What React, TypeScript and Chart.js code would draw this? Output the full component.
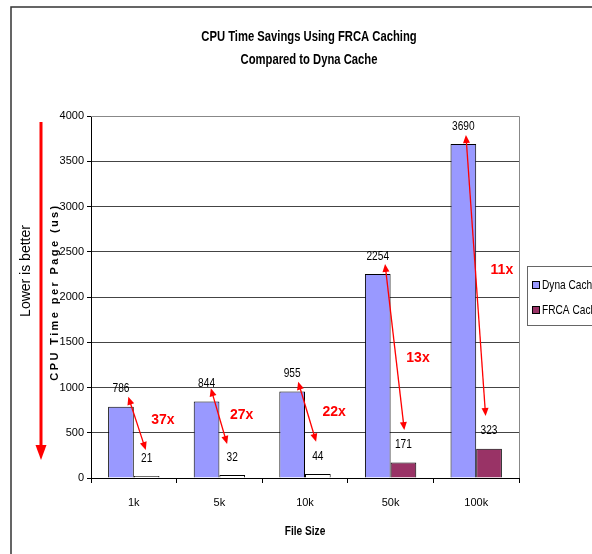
import React, { useEffect, useRef } from 'react';
import { Chart, registerables } from 'chart.js';

Chart.register(...registerables);

const categories = ['1k', '5k', '10k', '50k', '100k'];
const dynaCache = [786, 844, 955, 2254, 3690];
const frcaCache = [21, 32, 44, 171, 323];
const yTicks = [0, 500, 1000, 1500, 2000, 2500, 3000, 3500, 4000];

// speed-up annotations (positions in data units: category offset, value)
const ratioLabels = ['37x', '27x', '22x', '13x', '11x'];
const ratioOffsetX = [0.34, 0.26, 0.34, 0.32, 0.3];
const ratioValueY = [641, 696, 733, 1326, 2298];
const arrowStartOffsetX = [-0.064, -0.1, -0.08, -0.065, -0.12];
const arrowStartValue = [898, 991, 1064, 2365, 3790];
const arrowEndOffsetX = [0.14, 0.09, 0.13, 0.16, 0.11];
const arrowEndValue = [309, 376, 401, 530, 685];

const SANS = "'Liberation Sans', Arial, sans-serif";

function arrowHead(ctx: CanvasRenderingContext2D, x1: number, y1: number, x2: number, y2: number, len: number, half: number) {
  const a = Math.atan2(y2 - y1, x2 - x1);
  const bx = x2 - len * Math.cos(a);
  const by = y2 - len * Math.sin(a);
  ctx.beginPath();
  ctx.moveTo(x2, y2);
  ctx.lineTo(bx + half * Math.sin(a), by - half * Math.cos(a));
  ctx.lineTo(bx - half * Math.sin(a), by + half * Math.cos(a));
  ctx.closePath();
  ctx.fill();
}

function narrowText(ctx: CanvasRenderingContext2D, text: string, x: number, y: number, sx: number) {
  ctx.save();
  ctx.translate(x, y);
  ctx.scale(sx, 1);
  ctx.fillText(text, 0, 0);
  ctx.restore();
}

const decorPlugin = {
  id: 'decor',
  beforeDraw(chart: any) {
    const ctx = chart.ctx as CanvasRenderingContext2D;
    ctx.save();
    ctx.fillStyle = '#fff';
    ctx.fillRect(0, 0, chart.width, chart.height);
    ctx.restore();
  },
  afterDraw(chart: any) {
    const ctx = chart.ctx as CanvasRenderingContext2D;
    const area = chart.chartArea;
    const xs = chart.scales.x;
    const ys = chart.scales.y;
    ctx.save();

    // outer frame
    ctx.strokeStyle = '#333';
    ctx.lineWidth = 1.5;
    ctx.strokeRect(11, 7, chart.width + 20, chart.height + 20);

    // plot frame top/right
    ctx.strokeStyle = '#888';
    ctx.lineWidth = 1;
    ctx.beginPath();
    ctx.moveTo(area.left, area.top + 0.5);
    ctx.lineTo(area.right + 0.5, area.top + 0.5);
    ctx.lineTo(area.right + 0.5, area.bottom);
    ctx.stroke();

    // title
    ctx.fillStyle = '#000';
    ctx.textAlign = 'center';
    ctx.textBaseline = 'middle';
    ctx.font = `bold 15px ${SANS}`;
    narrowText(ctx, 'CPU Time Savings Using FRCA Caching', 309, 37, 0.75);
    narrowText(ctx, 'Compared to Dyna Cache', 309, 60, 0.75);

    // x axis title
    ctx.font = `bold 13px ${SANS}`;
    narrowText(ctx, 'File Size', (area.left + area.right) / 2, 531, 0.78);

    // y axis title (letter-spaced)
    ctx.save();
    ctx.translate(55, 292);
    ctx.rotate(-Math.PI / 2);
    ctx.font = `bold 11px ${SANS}`;
    (ctx as any).letterSpacing = '2.4px';
    ctx.fillText('CPU Time per Page (us)', 0, 0);
    ctx.restore();

    // Lower is better
    ctx.save();
    ctx.translate(26, 271);
    ctx.rotate(-Math.PI / 2);
    ctx.font = `14px ${SANS}`;
    ctx.fillStyle = '#000';
    ctx.fillText('Lower is better', 0, 0);
    ctx.restore();

    // big red arrow
    ctx.strokeStyle = '#ff0000';
    ctx.fillStyle = '#ff0000';
    ctx.lineWidth = 3;
    ctx.beginPath();
    ctx.moveTo(41, area.top + 6);
    ctx.lineTo(41, area.bottom - 30);
    ctx.stroke();
    arrowHead(ctx, 41, area.top, 41, area.bottom - 18, 15, 5.5);

    // data labels
    ctx.fillStyle = '#000';
    ctx.font = `13px ${SANS}`;
    ctx.textAlign = 'center';
    ctx.textBaseline = 'middle';
    [0, 1].forEach((di) => {
      const meta = chart.getDatasetMeta(di);
      const vals = di === 0 ? dynaCache : frcaCache;
      meta.data.forEach((bar: any, i: number) => {
        narrowText(ctx, String(vals[i]), bar.x, bar.y - 18, 0.78);
      });
    });

    // speed-up arrows and labels
    const cw = xs.getPixelForValue(1) - xs.getPixelForValue(0);
    ctx.strokeStyle = '#ff0000';
    ctx.fillStyle = '#ff0000';
    ctx.lineWidth = 1.3;
    categories.forEach((_, i) => {
      const cx = xs.getPixelForValue(i);
      const x1 = cx + arrowStartOffsetX[i] * cw;
      const y1 = ys.getPixelForValue(arrowStartValue[i]);
      const x2 = cx + arrowEndOffsetX[i] * cw;
      const y2 = ys.getPixelForValue(arrowEndValue[i]);
      const a = Math.atan2(y2 - y1, x2 - x1);
      ctx.beginPath();
      ctx.moveTo(x1 + 6 * Math.cos(a), y1 + 6 * Math.sin(a));
      ctx.lineTo(x2 - 6 * Math.cos(a), y2 - 6 * Math.sin(a));
      ctx.stroke();
      arrowHead(ctx, x2, y2, x1, y1, 8, 3.5);
      arrowHead(ctx, x1, y1, x2, y2, 8, 3.5);
      ctx.font = `bold 14px ${SANS}`;
      ctx.fillText(ratioLabels[i], cx + ratioOffsetX[i] * cw, ys.getPixelForValue(ratioValueY[i]));
    });

    // legend
    ctx.fillStyle = '#fff';
    ctx.strokeStyle = '#666';
    ctx.lineWidth = 1;
    ctx.fillRect(527.5, 266.5, 80, 59);
    ctx.strokeRect(527.5, 266.5, 80, 59);
    const items: [string, string][] = [['Dyna Cache', '#9999ff'], ['FRCA Cache', '#993366']];
    items.forEach(([label, color], k) => {
      const y = 285 + k * 25;
      ctx.fillStyle = color;
      ctx.fillRect(532.5, y - 3.5, 7, 7);
      ctx.strokeStyle = '#000';
      ctx.strokeRect(532.5, y - 3.5, 7, 7);
      ctx.fillStyle = '#000';
      ctx.font = `13px ${SANS}`;
      ctx.textAlign = 'left';
      ctx.textBaseline = 'middle';
      narrowText(ctx, label, 542, y, 0.78);
    });

    ctx.restore();
  },
};

export default function App() {
  const ref = useRef<HTMLCanvasElement>(null);
  useEffect(() => {
    if (!ref.current) return;
    const chart = new Chart(ref.current, {
      type: 'bar',
      data: {
        labels: categories,
        datasets: [
          {
            label: 'Dyna Cache',
            data: dynaCache,
            backgroundColor: '#9999ff',
            borderColor: '#000',
            borderWidth: 1,
            categoryPercentage: 0.6,
            barPercentage: 1,
          },
          {
            label: 'FRCA Cache',
            data: frcaCache,
            // very short bars render as outline only, as in the source
            backgroundColor: (c: any) => {
              const v = c.raw as number;
              return v < 60 ? '#ffffff' : '#993366';
            },
            borderColor: '#000',
            borderWidth: 1,
            categoryPercentage: 0.6,
            barPercentage: 1,
          },
        ],
      },
      options: {
        responsive: false,
        animation: false,
        devicePixelRatio: 1,
        layout: { padding: { left: 0, top: 116, right: 73, bottom: 0 } },
        plugins: { legend: { display: false }, title: { display: false }, tooltip: { enabled: false } },
        scales: {
          x: {
            afterFit: (s: any) => { s.height = 76; },
            grid: { drawOnChartArea: false, drawTicks: true, tickLength: 5, color: '#000', offset: true },
            border: { display: true, color: '#000', width: 1 },
            ticks: { color: '#000', font: { family: SANS, size: 11 }, padding: 13 },
          },
          y: {
            min: 0,
            max: 4000,
            afterFit: (s: any) => { s.width = 91; },
            afterBuildTicks: (s: any) => { s.ticks = yTicks.map((v) => ({ value: v })); },
            grid: { color: '#444', tickColor: '#000', tickLength: 4, drawTicks: true },
            border: { display: true, color: '#000', width: 1 },
            ticks: { color: '#000', font: { family: SANS, size: 11 }, padding: 3, callback: (v: any) => String(v) },
          },
        },
      },
      plugins: [decorPlugin],
    } as any);
    return () => chart.destroy();
  }, []);
  return (
    <div style={{ position: 'fixed', left: 0, top: 0, width: 592, height: 554, background: '#fff', overflow: 'hidden' }}>
      <canvas ref={ref} width={592} height={554} style={{ width: 592, height: 554, display: 'block' }} />
    </div>
  );
}
